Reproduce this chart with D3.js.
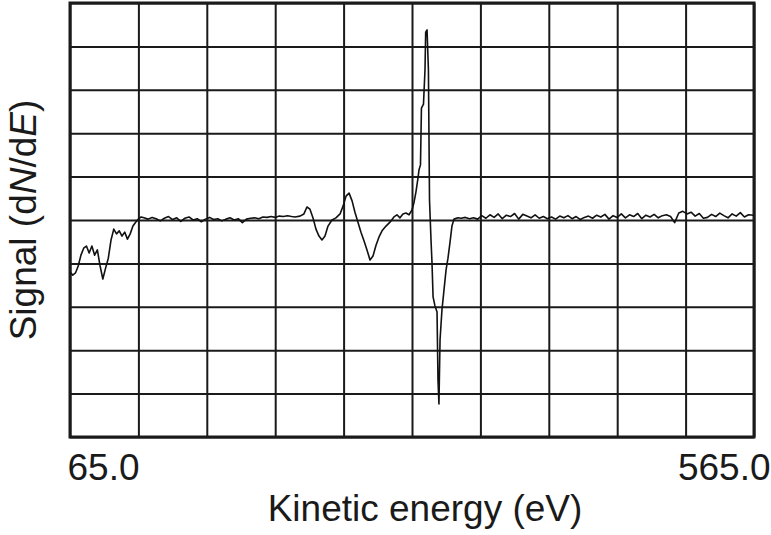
<!DOCTYPE html>
<html>
<head>
<meta charset="utf-8">
<script src="https://cdn.jsdelivr.net/npm/d3@7"></script>
<style>
  body { margin: 0; background: #fff; }
  text { font-family: "Liberation Sans", Arial, sans-serif; fill: #1a1a1a; }
</style>
</head>
<body>
<svg width="771" height="535"></svg>
<script>
/* spectrum (energy in eV, signal in arbitrary units) */
var energy = [
  65, 67, 69, 71, 73, 75, 77, 79, 81, 83, 85, 87, 89, 91, 93, 95, 97, 99, 101, 103,
  105, 107, 109, 111, 113, 115, 117, 119, 122, 125, 128, 131, 134, 137, 140, 143,
  146, 149, 152, 155, 158, 161, 164, 167, 170, 173, 176, 179, 182, 185, 188, 191,
  194, 197, 200, 203, 206, 209, 212, 215, 218, 221, 224, 227, 229.5, 233.1, 236,
  238.2, 240.4, 242.6, 244.8, 247, 249.2, 251.4, 253.6, 256.5, 259.4, 262.4, 264.6,
  266.8, 269, 271.2, 273.3, 275.5, 277.7, 279.9, 282.1, 284.3, 286.5, 288.7, 290.9,
  293.1, 296, 298.9, 301.8, 304, 306.2, 308.4, 310.6, 312.8, 315, 316.5, 317.9,
  319.4, 320.1, 321.2, 321.9, 323.4, 324.5, 325, 326, 327, 327.8, 328.9, 329.6,
  330.4, 331.8, 333.3, 334, 334.7, 335.5, 336.9, 338.4, 339.9, 341.3, 342.8, 344.2,
  345.7, 348.6, 351, 354, 357, 360, 363, 366, 369, 372, 375, 378, 381, 384, 387,
  390, 393, 396, 399, 402, 405, 408, 411, 414, 417, 420, 423, 426, 429, 432, 435,
  438, 441, 444, 447, 450, 453, 456, 459, 462, 465, 468, 471, 474, 477, 480, 483,
  486, 489, 492, 495, 498, 501, 504, 507, 510, 513, 516, 519, 522, 525, 528, 531,
  534, 537, 540, 543, 546, 549, 552, 555, 558, 561, 565
];
var signal = [
  -1.20, -1.27, -1.22, -1.06, -0.81, -0.65, -0.60, -0.76, -0.60, -0.81, -0.69, -1.06,
  -1.36, -1.11, -0.88, -0.46, -0.21, -0.32, -0.25, -0.37, -0.28, -0.44, -0.32, -0.14,
  -0.05, 0.02, 0.07, 0.05, 0.02, 0.06, 0.03, -0.02, 0.04, 0.08, 0.01, 0.05, -0.03,
  0.04, 0.07, 0.00, 0.03, -0.04, 0.02, 0.06, 0.01, 0.03, -0.02, 0.02, 0.05, 0.00,
  0.03, -0.06, 0.02, 0.04, 0.05, 0.03, 0.07, 0.06, 0.08, 0.06, 0.09, 0.08, 0.10,
  0.08, 0.07, 0.09, 0.14, 0.30, 0.25, 0.05, -0.21, -0.37, -0.46, -0.37, -0.14, 0.00,
  0.05, 0.14, 0.32, 0.55, 0.62, 0.44, 0.18, -0.05, -0.28, -0.48, -0.69, -0.92, -0.83,
  -0.58, -0.39, -0.25, -0.14, -0.05, 0.07, 0.12, 0.05, 0.14, 0.16, 0.12, 0.23, 0.41,
  0.65, 0.97, 1.15, 1.27, 2.58, 2.67, 3.46, 4.33, 4.38, 3.46, 0.46, -0.46, -0.97,
  -1.77, -1.98, -2.12, -3.69, -4.24, -2.76, -2.07, -1.61, -1.15, -0.88, -0.51, -0.14,
  0.02, 0.05, 0.04, 0.06, 0.03, 0.05, 0.02, 0.10, 0.04, 0.12, 0.06, 0.14, 0.03, 0.11,
  0.08, 0.15, 0.02, 0.13, 0.09, 0.05, 0.12, 0.04, 0.08, 0.03, 0.07, 0.02, 0.09, 0.05,
  0.10, 0.03, 0.08, 0.01, 0.06, 0.09, 0.04, 0.11, 0.07, 0.13, 0.02, 0.10, 0.06, 0.14,
  0.05, 0.12, 0.08, 0.15, 0.03, 0.11, 0.07, 0.13, 0.05, 0.10, 0.12, 0.08, -0.06, 0.16,
  0.20, 0.14, 0.18, 0.09, 0.15, 0.04, 0.06, 0.13, 0.08, 0.16, 0.10, 0.05, 0.14, 0.09,
  0.17, 0.07, 0.12, 0.11
];

/* grid and labels */
var xGrid = [65, 115, 165, 215, 265, 315, 365, 415, 465, 515, 565];
var yGrid = [-5, -4, -3, -2, -1, 0, 1, 2, 3, 4, 5];
var xTickLabels = [65, 565];

var svg = d3.select("svg");
var plotLeft = 70, plotRight = 754, plotTop = 3, plotBottom = 437;

var x = d3.scaleLinear().domain([65, 565]).range([plotLeft, plotRight]);
var y = d3.scaleLinear().domain([-5, 5]).range([plotBottom, plotTop]);

var data = energy.map(function(e, i) { return {e: e, s: signal[i]}; });

/* vertical grid */
svg.append("g")
    .attr("transform", "translate(0," + plotBottom + ")")
    .call(d3.axisBottom(x).tickValues(xGrid).tickSize(-(plotBottom - plotTop)).tickFormat(""))
    .call(function(g) { g.select(".domain").remove(); })
    .selectAll("line")
    .attr("stroke", "#1a1a1a")
    .attr("stroke-width", 2);

/* horizontal grid */
svg.append("g")
    .attr("transform", "translate(" + plotLeft + ",0)")
    .call(d3.axisLeft(y).tickValues(yGrid).tickSize(-(plotRight - plotLeft)).tickFormat(""))
    .call(function(g) { g.select(".domain").remove(); })
    .selectAll("line")
    .attr("stroke", "#1a1a1a")
    .attr("stroke-width", 2);

/* frame */
svg.append("rect")
    .attr("x", plotLeft)
    .attr("y", plotTop)
    .attr("width", plotRight - plotLeft)
    .attr("height", plotBottom - plotTop)
    .attr("fill", "none")
    .attr("stroke", "#1a1a1a")
    .attr("stroke-width", 3);

/* the spectrum */
var line = d3.line()
    .x(function(d) { return x(d.e); })
    .y(function(d) { return y(d.s); });

svg.append("path")
    .datum(data)
    .attr("fill", "none")
    .attr("stroke", "#111")
    .attr("stroke-width", 1.6)
    .attr("stroke-linejoin", "round")
    .attr("d", line);

/* x tick labels: first left aligned, last right aligned */
var xAxis = svg.append("g")
    .attr("transform", "translate(0," + plotBottom + ")")
    .call(d3.axisBottom(x).tickValues(xTickLabels).tickSize(0).tickPadding(0).tickFormat(d3.format(".1f")))
    .call(function(g) { g.select(".domain").remove(); });

xAxis.selectAll("text")
    .attr("font-size", 37)
    .attr("dy", null)
    .attr("y", 43)
    .attr("font-family", "Liberation Sans, Arial, sans-serif")
    .attr("fill", "#1a1a1a")
    .attr("text-anchor", function(d) { return d === 65 ? "start" : "end"; })
    .attr("dx", function(d) { return d === 65 ? -3 : 16; });

/* axis titles */
svg.append("text")
    .attr("x", 425)
    .attr("y", 521)
    .attr("text-anchor", "middle")
    .attr("font-size", 37)
    .text("Kinetic energy (eV)");

var yTitle = svg.append("text")
    .attr("transform", "translate(36,220) rotate(-90)")
    .attr("text-anchor", "middle")
    .attr("font-size", 37);
yTitle.append("tspan").text("Signal (d");
yTitle.append("tspan").attr("font-style", "italic").text("N");
yTitle.append("tspan").text("/d");
yTitle.append("tspan").attr("font-style", "italic").text("E");
yTitle.append("tspan").text(")");
</script>
</body>
</html>
